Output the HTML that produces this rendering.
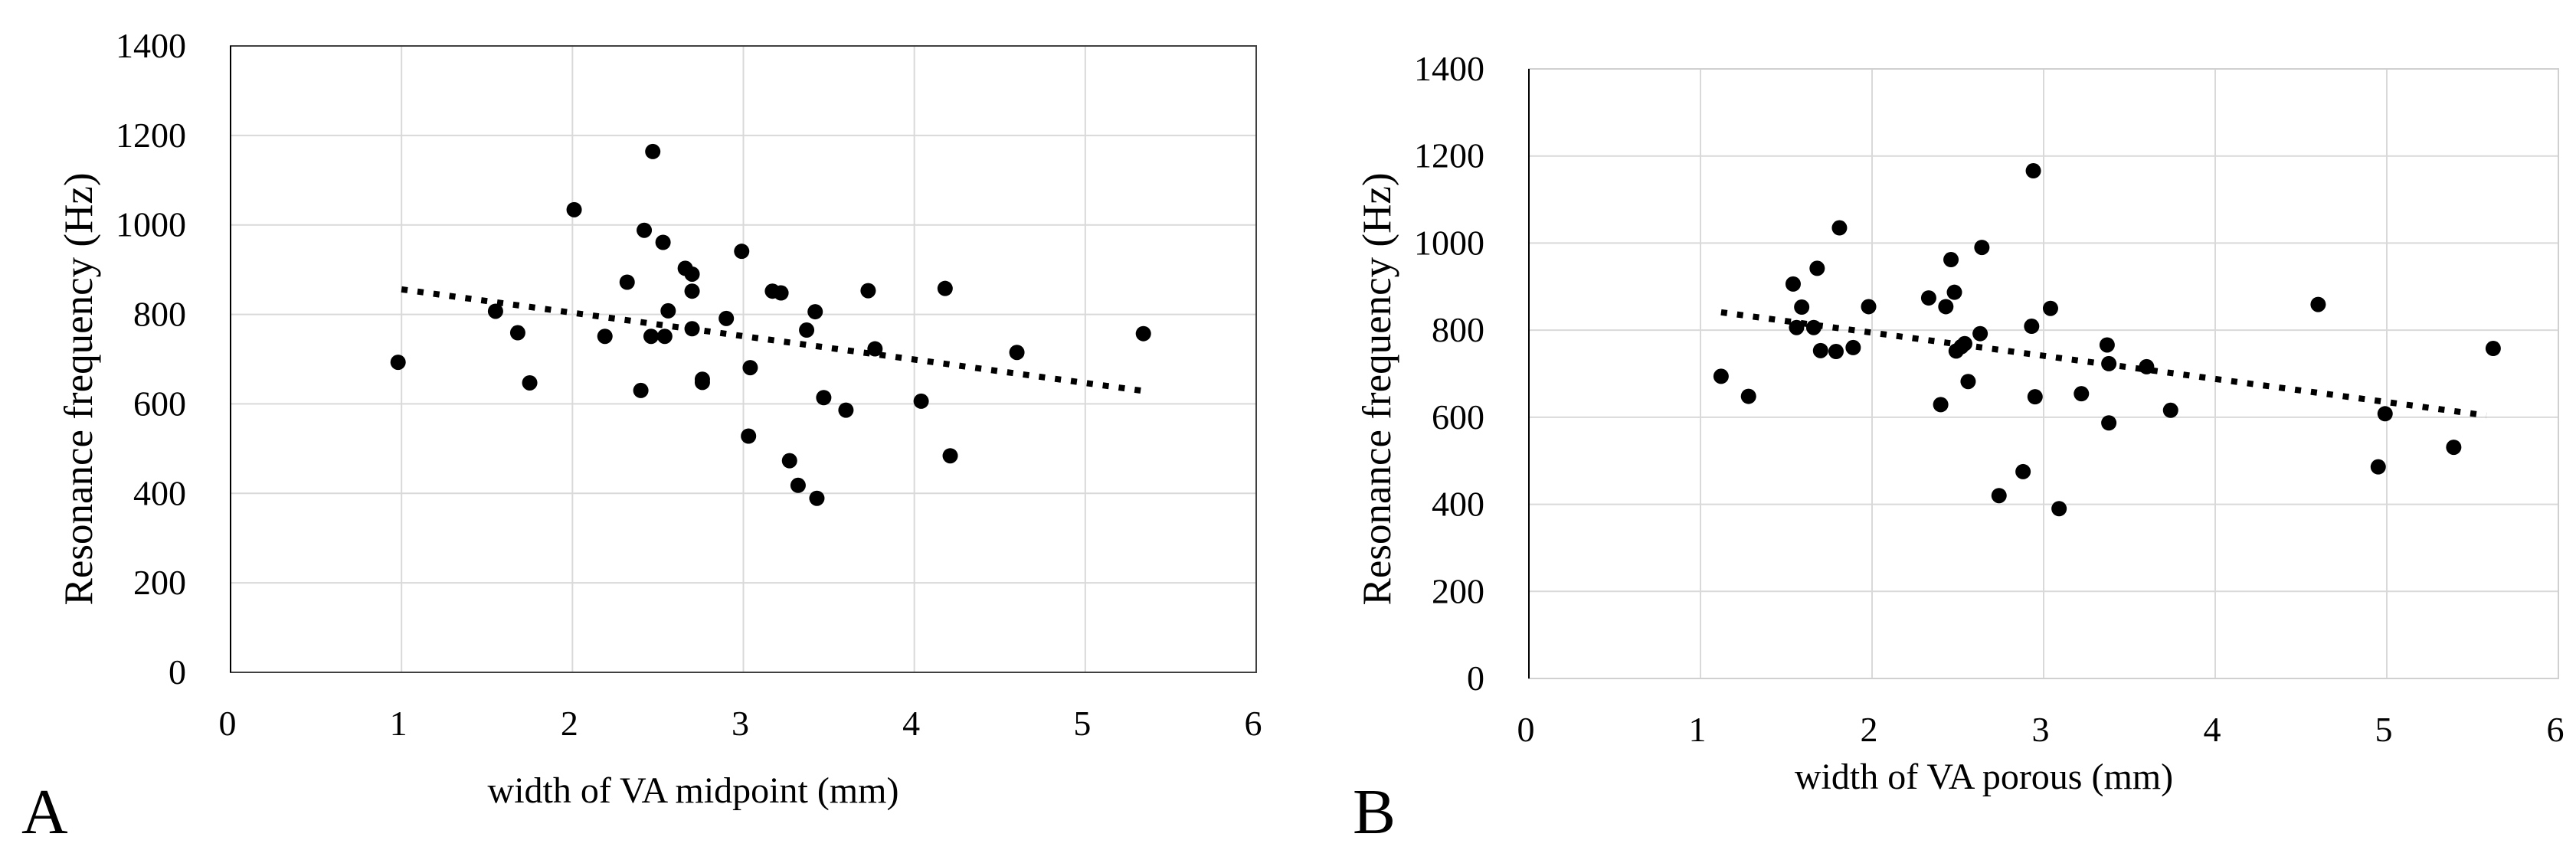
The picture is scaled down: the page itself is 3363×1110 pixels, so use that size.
<!DOCTYPE html>
<html><head><meta charset="utf-8"><style>
html,body{margin:0;padding:0;background:#fff;}
svg{display:block;font-family:"Liberation Serif",serif;}
</style></head><body>
<svg id="fig" width="3363" height="1110" viewBox="0 0 3363 1110"></svg>
<script>
const xTicks=[0,1,2,3,4,5,6];
const yTicks=[0,200,400,600,800,1000,1200,1400];
const aX=[0.98,1.55,1.68,1.75,2.01,2.19,2.32,2.40,2.42,2.47,2.46,2.53,2.54,2.56,2.66,2.70,2.70,2.70,2.76,2.76,2.90,2.99,3.03,3.04,3.17,3.22,3.27,3.32,3.37,3.42,3.43,3.47,3.60,3.73,3.77,4.04,4.18,4.21,4.60,5.34];
const aY=[693,807,759,647,1034,751,872,630,988,1164,751,961,751,808,903,890,852,768,648,655,791,941,528,681,852,848,473,418,765,806,389,614,586,853,723,606,858,484,715,757];
const aTrendX=[1,5.34];
const aTrendY=[856,629];
const bX=[1.12,1.28,1.54,1.56,1.59,1.66,1.68,1.70,1.79,1.81,1.89,1.98,2.33,2.40,2.43,2.46,2.48,2.49,2.52,2.54,2.56,2.63,2.64,2.74,2.88,2.93,2.94,2.95,3.04,3.09,3.22,3.37,3.38,3.38,3.60,3.74,4.60,4.95,4.99,5.39,5.62];
const bY=[694,648,906,806,853,806,942,753,751,1035,760,854,874,629,854,962,887,752,762,769,682,792,990,420,475,809,1166,647,850,390,654,766,723,587,716,616,859,486,608,531,758];
const bTrendX=[1.12,5.58];
const bTrendY=[841,604];

const NS="http://www.w3.org/2000/svg";
const svg=document.getElementById('fig');
function mk(tag,attrs,parent){const e=document.createElementNS(NS,tag);for(const k in attrs)e.setAttribute(k,attrs[k]);(parent||svg).appendChild(e);return e;}

function chart(cfg){
  const g=mk('g',{});
  
  
  const sx=v=>cfg.L+(v-0)/(6-0)*(cfg.R-cfg.L);
  const sy=v=>cfg.B-(v-0)/(1400-0)*(cfg.B-cfg.T);
  yTicks.forEach(t=>{
    if(t>0){const l=mk('line',{x1:cfg.L,x2:cfg.R,y1:sy(t),y2:sy(t),stroke:'#d9d9d9','stroke-width':2},g);
    
    }
    const tx=mk('text',{x:cfg.L-58,y:sy(t)+15,'font-size':46,'text-anchor':'end',fill:'#000'},g);
    tx.textContent=t;
    
    
  });
  xTicks.forEach(t=>{
    if(t>0&&t<6){const l=mk('line',{x1:sx(t),x2:sx(t),y1:cfg.T,y2:cfg.B,stroke:'#d9d9d9','stroke-width':2},g);
    
    }
    const tx=mk('text',{x:sx(t)-4,y:cfg.B+82,'font-size':46,'text-anchor':'middle',fill:'#000'},g);
    tx.textContent=t;
    
    
  });
  const box=mk('rect',{x:cfg.L,y:cfg.T,width:cfg.R-cfg.L,height:cfg.B-cfg.T,fill:'none',stroke:cfg.border,'stroke-width':2},g);
  
  
  const ax=mk('line',{x1:cfg.L,x2:cfg.L,y1:cfg.T,y2:cfg.B,stroke:'#000','stroke-width':2},g);
  
  
  const tr=mk('line',{x1:sx(cfg.tx[0]),y1:sy(cfg.ty[0]),x2:sx(cfg.tx[1]),y2:sy(cfg.ty[1]),stroke:'#000','stroke-width':8,'stroke-dasharray':'8 13'},g);
  
  
  cfg.xs.forEach((x,i)=>{
    const c=mk('circle',{cx:sx(x),cy:sy(cfg.ys[i]),r:10,fill:'#000'},g);
    
    
  });
  const yt=mk('text',{x:0,y:0,'font-size':53,'text-anchor':'middle',transform:`translate(${cfg.ylx},${cfg.ylc}) rotate(-90)`},g);
  yt.textContent='Resonance frequency (Hz)';
  
  
  const xt=mk('text',{x:cfg.xtx,y:cfg.xty,'font-size':48,'text-anchor':'middle'},g);
  xt.textContent=cfg.xtitle;
  
  
  const p=mk('text',{x:cfg.px,y:1088,'font-size':84},g);
  p.textContent=cfg.panel;
  
  
}
chart({name:'chart-a',L:301,R:1640,T:60,B:878,border:'#404040',xs:aX,ys:aY,tx:aTrendX,ty:aTrendY,ylx:120,ylc:508,xtx:905,xty:1048,xtitle:'width of VA midpoint (mm)',px:28,panel:'A'});
chart({name:'chart-b',L:1996,R:3340,T:90,B:886,border:'#d0d0d0',xs:bX,ys:bY,tx:bTrendX,ty:bTrendY,ylx:1815,ylc:508,xtx:2590,xty:1030,xtitle:'width of VA porous (mm)',px:1766,panel:'B'});
</script>
</body></html>
